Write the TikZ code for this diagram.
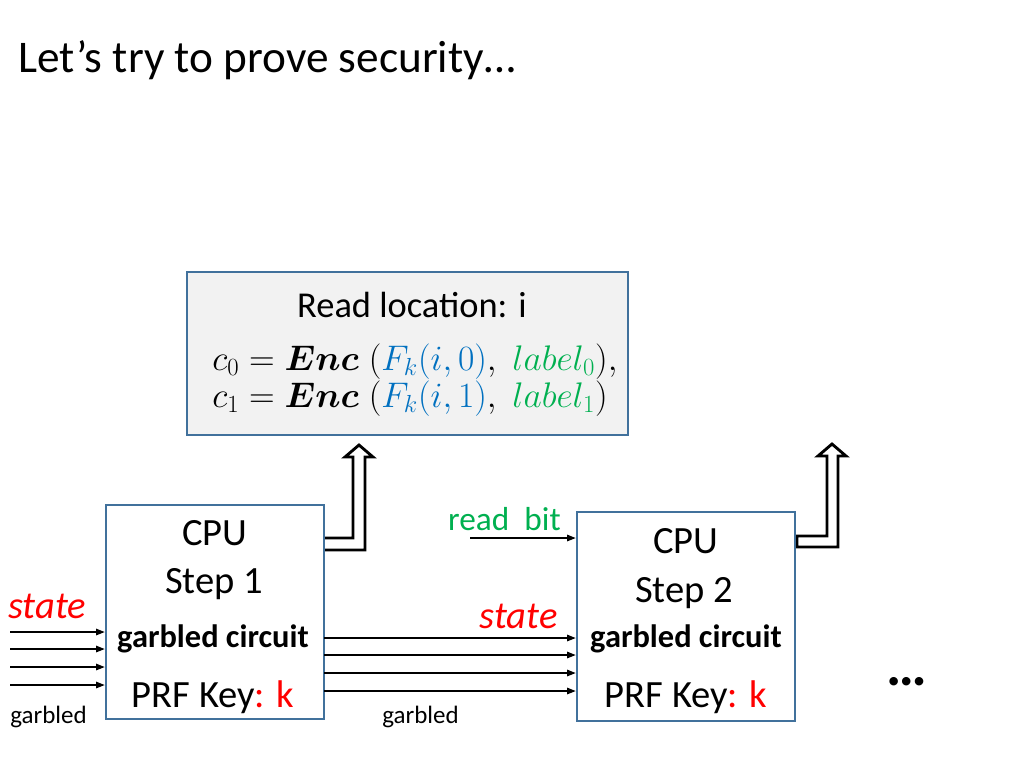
\documentclass[tikz,border=0pt]{standalone}
\usepackage{amsmath,bm}
\usepackage{fontspec}
\setmainfont{Carlito}
\usepackage{tikz}
\usetikzlibrary{arrows.meta}

\definecolor{boxblue}{HTML}{41719C}
\definecolor{boxgray}{HTML}{F2F2F2}
\definecolor{myred}{HTML}{FF0000}
\definecolor{mygreen}{HTML}{00B050}
\definecolor{myblue}{HTML}{0070C0}

\tikzset{
  cpubox/.style={draw=boxblue, line width=1.8pt, fill=white},
  wire/.style={black, line width=0.9pt, -{Triangle[length=6pt,width=4.5pt]}},
  fatarrow/.style={black, line width=2pt, fill=white, line join=miter},
  bigtxt/.style={font=\fontsize{27}{32}\selectfont, inner sep=0pt},
  midtxt/.style={font=\fontsize{22.7}{27}\selectfont\bfseries, inner sep=0pt},
  smalltxt/.style={font=\fontsize{17.5}{21}\selectfont, inner sep=0pt},
  mathtxt/.style={font=\fontsize{26}{30}\selectfont, anchor=base west, inner sep=0pt},
}

\begin{document}
\begin{tikzpicture}[x=0.7pt,y=-0.7pt]
    \useasboundingbox[fill=white] (0,0) rectangle (1024,768);
    \node[font=\fontsize{31.7}{38}\selectfont, anchor=base west, inner sep=0pt] (title) at (18,72) {Let’s try to prove security…};

    % memory request
    \node[draw=boxblue, line width=1.8pt, fill=boxgray, minimum width=308.7pt, minimum height=114.1pt] (mem) at (407.5,353.5) {};
    \node[font=\fontsize{25.5}{30}\selectfont, anchor=base, inner sep=0pt] (rdloc) at (412,317) {Read location: i};
    \node[mathtxt] (cz) at (212,370) {$c_0 = \bm{Enc}\;(\textcolor{myblue}{F_k(i,0)},\; \textcolor{mygreen}{label_0}),$};
    \node[mathtxt] (co) at (212,407) {$c_1 = \bm{Enc}\;(\textcolor{myblue}{F_k(i,1)},\; \textcolor{mygreen}{label_1})$};

    % hollow arrows up
    \draw[fatarrow] (323,550) -- (365,550) -- (365,457) -- (373,457) -- (359,445) -- (345,457) -- (353,457) -- (353,538) -- (323,538) -- cycle;
    \draw[fatarrow] (797,547) -- (838,547) -- (838,456) -- (846,456) -- (832,444) -- (818,456) -- (827,456) -- (827,536) -- (797,536) -- cycle;

    % cpu steps
    \node[cpubox, minimum width=152.6pt, minimum height=149.8pt] (step1) at (215,612) {};
    \node[cpubox, minimum width=152.6pt, minimum height=146.3pt] (step2) at (686,616.5) {};

    \node[bigtxt, anchor=base] (cpu1) at (215,545) {CPU};
    \node[bigtxt, anchor=base] (stp1) at (214,593) {Step 1};
    \node[midtxt, anchor=base] (gc1) at (213,647) {garbled circuit};
    \node[bigtxt, anchor=base] (key1) at (213,707) {PRF Key\textcolor{myred}{: k}};

    \node[bigtxt, anchor=base] (cpu2) at (686,553) {CPU};
    \node[bigtxt, anchor=base] (stp2) at (684,602) {Step 2};
    \node[midtxt, anchor=base] (gc2) at (686,647) {garbled circuit};
    \node[bigtxt, anchor=base] (key2) at (686,707) {PRF Key\textcolor{myred}{: k}};

    % inputs of step 1
    \node[bigtxt, anchor=base west, text=myred] (st1) at (8,618) {\itshape state};
    \node[smalltxt, anchor=base west] (gb1) at (10,723) {garbled};
    \coordinate (in1) at (10,632);
    \coordinate (in2) at (10,649);
    \coordinate (in3) at (10,667);
    \coordinate (in4) at (10,685);
    \draw[wire] (in1) -- (in1 -| step1.west);
    \draw[wire] (in2) -- (in2 -| step1.west);
    \draw[wire] (in3) -- (in3 -| step1.west);
    \draw[wire] (in4) -- (in4 -| step1.west);

    % step 1 to step 2
    \node[bigtxt, anchor=base east, text=myred] (st2) at (558,628) {\itshape state};
    \node[smalltxt, anchor=base west] (gb2) at (382,723) {garbled};
    \coordinate (out1) at (324,638);
    \coordinate (out2) at (324,655);
    \coordinate (out3) at (324,673);
    \coordinate (out4) at (324,691);
    \draw[wire] (out1) -- (out1 -| step2.west);
    \draw[wire] (out2) -- (out2 -| step2.west);
    \draw[wire] (out3) -- (out3 -| step2.west);
    \draw[wire] (out4) -- (out4 -| step2.west);

    % read bit
    \node[font=\fontsize{23.3}{28}\selectfont, anchor=base east, inner sep=0pt, text=mygreen] (rb) at (561,530) {read\ \ bit};
    \coordinate (rbin) at (470,538);
    \draw[wire] (rbin) -- (rbin -| step2.west);

    \node[font=\fontsize{40}{46}\selectfont\bfseries, anchor=base, inner sep=0pt] (dots) at (907,685) {…};
\end{tikzpicture}
\end{document}
